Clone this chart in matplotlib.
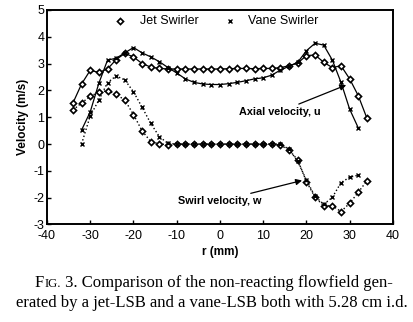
import matplotlib
matplotlib.use('Agg')
import matplotlib.pyplot as plt
from matplotlib.transforms import offset_copy

# radial positions (mm)
r_jet = [-34, -32, -30, -28, -26, -24, -22, -20, -18, -16, -14, -12, -10, -8, -6, -4, -2,
         0, 2, 4, 6, 8, 10, 12, 14, 16, 18, 20, 22, 24, 26, 28, 30, 32, 34]
r_vane = [-32, -30, -28, -26, -24, -22, -20, -18, -16, -14, -12, -10, -8, -6, -4, -2,
          0, 2, 4, 6, 8, 10, 12, 14, 16, 18, 20, 22, 24, 26, 28, 30, 32]

# axial velocity u (m/s)
u_jet = [1.53, 2.24, 2.75, 2.67, 2.8, 3.15, 3.38, 3.25, 3.0, 2.87, 2.82, 2.8, 2.8, 2.8, 2.8, 2.8, 2.8,
         2.8, 2.81, 2.82, 2.82, 2.81, 2.82, 2.82, 2.85, 2.92, 3.02, 3.3, 3.32, 3.05, 2.85, 2.92, 2.43, 1.8, 0.96]
u_vane = [0.52, 1.2, 2.27, 3.13, 3.2, 3.4, 3.6, 3.4, 3.25, 3.07, 2.85, 2.65, 2.43, 2.3, 2.24, 2.22,
          2.22, 2.25, 2.3, 2.36, 2.43, 2.47, 2.57, 2.76, 2.9, 3.05, 3.48, 3.76, 3.69, 3.13, 2.3, 1.3, 0.6]

# swirl velocity w (m/s)
w_jet = [1.27, 1.53, 1.78, 1.94, 1.99, 1.85, 1.64, 1.1, 0.49, 0.09, 0.0, -0.02, 0.0, 0.0, 0.0, 0.0, 0.0,
         0.0, 0.0, 0.0, 0.0, 0.0, 0.0, 0.0, -0.05, -0.22, -0.6, -1.4, -1.99, -2.3, -2.3, -2.52, -2.21, -1.8, -1.37]
w_vane = [0.0, 1.05, 1.64, 2.29, 2.54, 2.39, 1.95, 1.37, 0.77, 0.27, 0.02, 0.0, 0.0, 0.0, 0.0, 0.0,
          0.0, 0.0, 0.0, 0.0, 0.0, 0.0, 0.0, 0.0, -0.2, -0.65, -1.35, -1.95, -2.25, -1.99, -1.44, -1.24, -1.16]

plt.rcParams['font.family'] = ['Liberation Sans', 'DejaVu Sans']
plt.rcParams['axes.unicode_minus'] = False

fig = plt.figure(figsize=(4.14, 3.22), dpi=100)
ax = fig.add_axes([0.1135, 0.303, 0.8355, 0.666])

mk_jet = dict(marker='D', markersize=3.1, markerfacecolor='white', markeredgecolor='black',
              markeredgewidth=1.2, color='black')
mk_vane = dict(marker='x', markersize=3.4, markeredgewidth=1.0, color='black')

ax.plot(r_jet, u_jet, '-', lw=0.9, **mk_jet)
ax.plot(r_vane, u_vane, '-', lw=0.9, **mk_vane)
ax.plot(r_jet, w_jet, ':', lw=1.0, **mk_jet)
ax.plot(r_vane, w_vane, ':', lw=1.0, **mk_vane)

ax.set_xlim(-40, 40)
ax.set_ylim(-3, 5)
ax.set_xticks(range(-40, 41, 10))
ax.set_yticks(range(-3, 6))
ax.tick_params(direction='in', labelsize=9, length=3, width=1, pad=2)
ax.tick_params(axis='x', pad=4)
for s in ax.spines.values():
    s.set_linewidth(1.4)

ax.set_xlabel('r (mm)', fontsize=8.5, fontweight='bold', labelpad=3)
ax.set_ylabel('Velocity (m/s)', fontsize=8.5, fontweight='bold', labelpad=3)

# legend
ax.plot([-23.0], [4.58], 'D', markersize=3.1, markerfacecolor='white',
        markeredgecolor='black', markeredgewidth=1.2)
ax.text(-18.5, 4.58, 'Jet Swirler', fontsize=9, va='center')
ax.plot([2.3], [4.58], 'x', markersize=3.4, markeredgewidth=1.0, color='black')
ax.text(6.6, 4.58, 'Vane Swirler', fontsize=9, va='center')

# annotations
ax.annotate('Axial velocity, u', xy=(29.2, 2.2), xytext=(23.2, 1.2),
            fontsize=7.8, fontweight='bold', ha='right', va='center',
            arrowprops=dict(arrowstyle='-|>', color='black', lw=0.9,
                            mutation_scale=9, shrinkA=0, shrinkB=0))
ax.annotate('Swirl velocity, w', xy=(19.0, -1.36), xytext=(9.6, -2.13),
            fontsize=7.8, fontweight='bold', ha='right', va='center',
            arrowprops=dict(arrowstyle='-|>', color='black', lw=0.9,
                            mutation_scale=9, shrinkA=0, shrinkB=0))

# caption, "FIG." set in small caps
serif = ['Liberation Serif', 'DejaVu Serif']
y1 = 1 - 287 / 322
y2 = 1 - 307 / 322
renderer = fig.canvas.get_renderer()
t = fig.text(35 / 414, y1, 'F', family=serif, fontsize=12, va='baseline')
w = t.get_window_extent(renderer).width
t2 = fig.text(35 / 414, y1, 'IG.', family=serif, fontsize=9.2, va='baseline',
              transform=offset_copy(fig.transFigure, fig=fig, x=w, units='dots'))
w += t2.get_window_extent(renderer).width
fig.text(35 / 414, y1, ' 3. Comparison of the non-reacting flowfield gen-', family=serif,
         fontsize=12, va='baseline',
         transform=offset_copy(fig.transFigure, fig=fig, x=w, units='dots'))
fig.text(0.986, y2, 'erated by a jet-LSB and a vane-LSB both with 5.28 cm i.d.',
         family=serif, fontsize=12, ha='right', va='baseline')

fig.savefig('out.png', dpi=100)
